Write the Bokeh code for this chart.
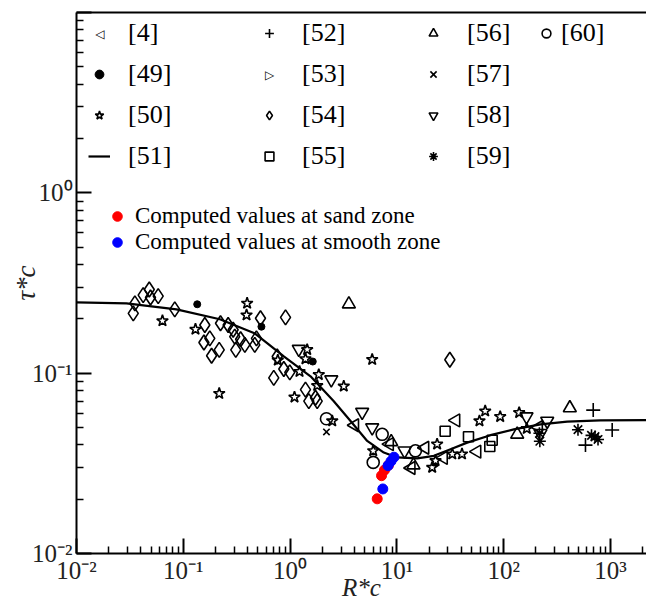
import numpy as np
from bokeh.plotting import figure
from bokeh.models import (Legend, LegendItem, Label, LogAxis, FixedTicker, Range1d)
from bokeh.embed import file_html
from bokeh.resources import INLINE

FONT = "Liberation Serif"

# ---------------- data ----------------
d4_x = [4.03, 8.53, 13.6, 18.3, 35.7, 27.3, 56.2, 212]
d4_y = [0.0514, 0.0404, 0.0298, 0.0386, 0.0547, 0.0339, 0.0367, 0.0501]

d49_x = [0.135, 0.539, 1.63]
d49_y = [0.241, 0.181, 0.116]

d50_x = [0.0638, 0.130, 0.217, 0.396, 0.391, 0.767, 1.445, 1.393, 1.225, 1.856,
         3.18, 5.87, 1.794, 1.099, 2.48, 6.0, 23.8, 59.3, 67.1, 92.7,
         139.6, 21.4, 23.0, 33.0, 40.7, 164.5]
d50_y = [0.195, 0.175, 0.0771, 0.244, 0.210, 0.118, 0.135, 0.120, 0.102, 0.0981,
         0.0846, 0.119, 0.0853, 0.0736, 0.0543, 0.0371, 0.0404, 0.0543, 0.0616, 0.0574,
         0.0604, 0.0300, 0.0327, 0.0356, 0.0356, 0.0493]

d51_x = [0.01, 0.0294, 0.0863, 0.220, 0.464, 0.601, 0.873, 1.553, 2.565, 3.68,
         5.27, 7.54, 10.07, 15.5, 22.2, 31.8, 45.5, 75.2, 124.4, 221, 393, 806, 2173]
d51_y = [0.2467, 0.2437, 0.2259, 0.199, 0.1665, 0.1478, 0.1238, 0.0960, 0.0699, 0.0543,
         0.0421, 0.0363, 0.0341, 0.0337, 0.0348, 0.0379, 0.0412, 0.0453, 0.0488, 0.0520,
         0.0538, 0.0547, 0.0549]

d52_x = [689, 583, 1037]
d52_y = [0.0624, 0.0399, 0.0484]

d53_x = []
d53_y = []

d54_x = [0.0352, 0.0340, 0.0421, 0.0480, 0.0493, 0.0582, 0.0832, 0.159, 0.223, 0.177,
         0.156, 0.217, 0.184, 0.263, 0.293, 0.303, 0.344, 0.310, 0.377, 0.467,
         0.528, 0.484, 0.757, 0.873, 0.993, 0.703, 1.393, 1.497, 1.729, 1.794,
         31.3, 0.906]
d54_y = [0.2437, 0.2147, 0.2707, 0.2911, 0.263, 0.2673, 0.2259, 0.185, 0.189, 0.156,
         0.148, 0.1347, 0.1249, 0.185, 0.174, 0.1595, 0.1543, 0.1347, 0.1436, 0.1436,
         0.2015, 0.156, 0.1238, 0.1055, 0.101, 0.0941, 0.0811, 0.070, 0.073, 0.070,
         0.1187, 0.204]

d55_x = [28.3, 46.8, 78.0, 74.1]
d55_y = [0.0476, 0.0444, 0.0425, 0.0392]

d56_x = [3.55, 8.85, 14.3, 133.8, 416]
d56_y = [0.2415, 0.0416, 0.0309, 0.0458, 0.0641]

d57_x = [2.19]
d57_y = [0.0472]

d58_x = [1.206, 2.43, 4.73, 5.87, 11.8, 163.5, 255.5, 221]
d58_y = [0.1359, 0.0921, 0.0608, 0.0499, 0.0371, 0.0574, 0.0543, 0.0464]

d59_x = [216, 218, 496, 716, 764, 664]
d59_y = [0.0464, 0.0419, 0.0486, 0.0445, 0.0429, 0.0452]

d60_x = [2.19, 7.28, 6.0, 14.9]
d60_y = [0.0559, 0.0458, 0.0320, 0.0371]

sand_x = [6.54, 7.18, 7.65, 8.34]
sand_y = [0.0201, 0.0270, 0.0290, 0.0309]

smooth_x = [7.38, 8.26, 8.81, 9.39]
smooth_y = [0.0228, 0.0307, 0.0325, 0.0342]

x_major = [0.01, 0.1, 1, 10, 100, 1000]
x_labels = ["10⁻²", "10⁻¹", "10⁰", "10¹", "10²", "10³"]
y_major = [0.01, 0.1, 1, 10]
y_labels = ["10⁻²", "10⁻¹", "10⁰", ""]

# ---------------- figure ----------------
p = figure(width=646, height=603, x_axis_type="log", y_axis_type="log",
           x_range=Range1d(0.01, 2173), y_range=Range1d(0.01, 10),
           output_backend="svg", toolbar_location=None,
           min_border_left=76, min_border_right=0, min_border_top=12,
           min_border_bottom=48)
p.grid.visible = False
p.outline_line_color = None
p.background_fill_color = "white"
p.border_fill_color = "white"

x_minor = [m * 10.0 ** e for e in range(-2, 4) for m in range(2, 10)]
y_minor = [m * 10.0 ** e for e in range(-2, 1) for m in range(2, 10)]
p.xaxis.ticker = FixedTicker(ticks=x_major, minor_ticks=x_minor)
p.yaxis.ticker = FixedTicker(ticks=y_major, minor_ticks=y_minor)
p.xaxis.major_label_overrides = dict(zip(x_major, x_labels))
p.yaxis.major_label_overrides = dict(zip(y_major, y_labels))

for ax in (p.xaxis[0], p.yaxis[0]):
    ax.axis_line_width = 2
    ax.axis_line_color = "black"
    ax.major_tick_in = 15
    ax.major_tick_out = 0
    ax.minor_tick_in = 7
    ax.minor_tick_out = 0
    ax.major_tick_line_width = 2
    ax.minor_tick_line_width = 1.5
    ax.major_tick_line_color = "black"
    ax.minor_tick_line_color = "black"
    ax.major_label_text_font = FONT
    ax.major_label_text_font_size = "25px"
    ax.major_label_text_color = "#222222"
    ax.axis_label_text_font = FONT
    ax.axis_label_text_font_style = "italic"
    ax.axis_label_text_color = "#222222"

p.xaxis.major_label_standoff = 3
p.yaxis.major_label_standoff = 4
p.xaxis.axis_label = "R*c"
p.xaxis.axis_label_text_font_size = "25px"
p.xaxis.axis_label_standoff = -13
p.yaxis.axis_label = "τ*c"
p.yaxis.axis_label_text_font_size = "27px"
p.yaxis.axis_label_standoff = -12

top = LogAxis(ticker=FixedTicker(ticks=[]), axis_line_width=2, axis_line_color="black",
              major_tick_in=0, major_tick_out=0, minor_tick_in=0, minor_tick_out=0,
              major_label_text_font_size="0px")
p.add_layout(top, "above")

# ---------------- series ----------------
mk = dict(fill_color=None, line_color="black", line_width=1.6)
r4 = p.scatter(d4_x, d4_y, marker="triangle", angle=np.pi / 2, size=13, **mk)
r49 = p.scatter(d49_x, d49_y, marker="circle", size=7, fill_color="black", line_color="black")
r50 = p.scatter(d50_x, d50_y, marker="star", size=12, **mk)
r51 = p.line(d51_x, d51_y, line_color="black", line_width=2.2)
r52 = p.scatter(d52_x, d52_y, marker="cross", size=14, **mk)
r53 = p.scatter(d53_x, d53_y, marker="triangle", angle=-np.pi / 2, size=13, **mk)
r54 = p.scatter(d54_x, d54_y, marker="diamond", size=15, **mk)
r55 = p.scatter(d55_x, d55_y, marker="square", size=10, **mk)
r56 = p.scatter(d56_x, d56_y, marker="triangle", size=13, **mk)
r57 = p.scatter(d57_x, d57_y, marker="x", size=9, **mk)
r58 = p.scatter(d58_x, d58_y, marker="inverted_triangle", size=13, **mk)
r59 = p.scatter(d59_x, d59_y, marker="asterisk", size=12, **mk)
r60 = p.scatter(d60_x, d60_y, marker="circle", size=12, **mk)
rs = p.scatter(sand_x, sand_y, marker="circle", size=10, fill_color="red", line_color="red")
rb = p.scatter(smooth_x, smooth_y, marker="circle", size=10, fill_color="blue", line_color="blue")

# invisible stand-in for the rotated-triangle legend entries
ghost = p.scatter([], [], marker="circle", size=1, fill_alpha=0, line_alpha=0)

# ---------------- legends ----------------
def add_legend(items, vx, vy, standoff, gw=22, gh=30, lh=30, spacing=11, fs="26px"):
    lg = Legend(items=items, location=(vx, vy), orientation="vertical",
                padding=0, margin=0, spacing=spacing, glyph_width=gw, glyph_height=gh,
                label_height=lh, label_standoff=standoff, label_text_font=FONT,
                label_text_font_size=fs, label_text_color="black",
                border_line_color=None, background_fill_alpha=0,
                inactive_fill_alpha=0)
    p.add_layout(lg)

add_legend([LegendItem(label="[4]", renderers=[ghost]),
            LegendItem(label="[49]", renderers=[r49]),
            LegendItem(label="[50]", renderers=[r50]),
            LegendItem(label="[51]", renderers=[r51])], 12, 382, 18)
add_legend([LegendItem(label="[52]", renderers=[r52]),
            LegendItem(label="[53]", renderers=[ghost]),
            LegendItem(label="[54]", renderers=[r54]),
            LegendItem(label="[55]", renderers=[r55])], 182, 382, 22)
add_legend([LegendItem(label="[56]", renderers=[r56]),
            LegendItem(label="[57]", renderers=[r57]),
            LegendItem(label="[58]", renderers=[r58]),
            LegendItem(label="[59]", renderers=[r59])], 346, 382, 23)
add_legend([LegendItem(label="[60]", renderers=[r60])], 459, 505, 4)
add_legend([LegendItem(label="Computed values at sand zone", renderers=[rs])],
           29, 324, 6, gw=24, gh=24, lh=24, fs="23px")
add_legend([LegendItem(label="Computed values at smooth zone", renderers=[rb])],
           29, 298, 6, gw=24, gh=24, lh=24, fs="23px")

for sym, sx, sy in (("◁", 23.5, 520), ("▷", 193, 479)):
    p.add_layout(Label(x=sx, y=sy, x_units="screen", y_units="screen", text=sym,
                       text_font="DejaVu Sans", text_font_size="12px",
                       text_align="center", text_baseline="middle", text_color="black"))

open("out.html", "w").write(file_html(p, INLINE))
